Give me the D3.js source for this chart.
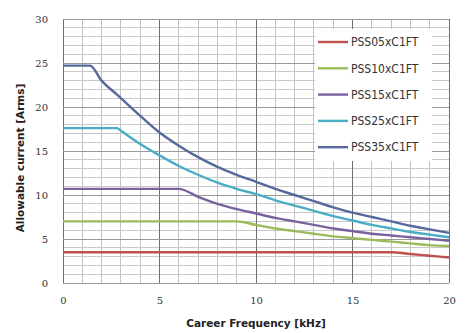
<!DOCTYPE html>
<html>
<head>
<meta charset="utf-8">
<script src="https://cdn.jsdelivr.net/npm/d3@7"></script>
<style>
  html, body { margin: 0; padding: 0; background: #fff; }
  svg { display: block; }
</style>
</head>
<body>
<svg id="chart" width="467" height="333"></svg>
<script>
// Carrier frequency [kHz] sample points
const freqs = [0, 1, 1.4, 2, 2.8, 3, 4, 5, 6, 7, 8, 9, 10, 11, 12, 13, 14, 15, 16, 17, 18, 19, 20];

// Allowable current [Arms] per model
const pss05 = [3.5, 3.5, 3.5, 3.5, 3.5, 3.5, 3.5, 3.5, 3.5, 3.5, 3.5, 3.5, 3.5, 3.5, 3.5, 3.5, 3.5, 3.5, 3.5, 3.5, 3.3, 3.1, 2.9];
const pss10 = [7.0, 7.0, 7.0, 7.0, 7.0, 7.0, 7.0, 7.0, 7.0, 7.0, 7.0, 7.0, 6.6, 6.2, 5.9, 5.6, 5.3, 5.1, 4.9, 4.7, 4.5, 4.3, 4.2];
const pss15 = [10.7, 10.7, 10.7, 10.7, 10.7, 10.7, 10.7, 10.7, 10.7, 9.8, 9.0, 8.4, 7.9, 7.4, 7.0, 6.6, 6.2, 5.9, 5.6, 5.4, 5.2, 5.0, 4.8];
const pss25 = [17.6, 17.6, 17.6, 17.6, 17.6, 17.3, 15.8, 14.5, 13.3, 12.3, 11.4, 10.7, 10.1, 9.4, 8.8, 8.2, 7.6, 7.1, 6.6, 6.2, 5.8, 5.5, 5.2];
const pss35 = [24.7, 24.7, 24.7, 23.0, 21.4, 21.0, 19.0, 17.1, 15.6, 14.3, 13.2, 12.3, 11.5, 10.7, 10.0, 9.3, 8.6, 8.0, 7.5, 7.0, 6.5, 6.1, 5.7];

const seriesNames = ["PSS05xC1FT", "PSS10xC1FT", "PSS15xC1FT", "PSS25xC1FT", "PSS35xC1FT"];
const seriesValues = [pss05, pss10, pss15, pss25, pss35];
const seriesColors = ["#c0504d", "#9bbb59", "#7a62a0", "#4bacc6", "#56689c"];

const xTicks = [0, 5, 10, 15, 20];
const yTicks = [0, 5, 10, 15, 20, 25, 30];

const xTitle = "Career Frequency [kHz]";
const yTitle = "Allowable current [Arms]";

const svg = d3.select("#chart");
const m = { left: 63, right: 18, top: 19, bottom: 50 };
const W = 467, H = 333;

const x = d3.scaleLinear().domain([0, 20]).range([m.left, W - m.right]);
const y = d3.scaleLinear().domain([0, 30]).range([H - m.bottom, m.top]);

const grid = svg.append("g");

// minor grid every 1 unit
grid.selectAll("line.vminor").data(d3.range(0, 21)).join("line")
  .attr("x1", d => x(d)).attr("x2", d => x(d))
  .attr("y1", y(0)).attr("y2", y(30))
  .attr("stroke", "#c2c2c2").attr("stroke-width", 1).attr("shape-rendering", "crispEdges");
grid.selectAll("line.hminor").data(d3.range(0, 31)).join("line")
  .attr("x1", x(0)).attr("x2", x(20))
  .attr("y1", d => y(d)).attr("y2", d => y(d))
  .attr("stroke", "#c8c8c8").attr("stroke-width", 1).attr("shape-rendering", "crispEdges");

// major grid
grid.selectAll("line.vmajor").data(xTicks).join("line")
  .attr("x1", d => x(d)).attr("x2", d => x(d))
  .attr("y1", y(0)).attr("y2", y(30))
  .attr("stroke", "#6e6e6e").attr("stroke-width", 1).attr("shape-rendering", "crispEdges");
grid.selectAll("line.hmajor").data(yTicks).join("line")
  .attr("x1", x(0)).attr("x2", x(20))
  .attr("y1", d => y(d)).attr("y2", d => y(d))
  .attr("stroke", "#9a9a9a").attr("stroke-width", 1).attr("shape-rendering", "crispEdges");

// axes (labels only)
const xAxis = d3.axisBottom(x).tickValues(xTicks).tickSize(0).tickPadding(14);
const yAxis = d3.axisLeft(y).tickValues(yTicks).tickSize(0).tickPadding(15);

const gx = svg.append("g").attr("transform", `translate(0,${y(0)})`).call(xAxis);
const gy = svg.append("g").attr("transform", `translate(${x(0)},0)`).call(yAxis);
[gx, gy].forEach(g => {
  g.select(".domain").remove();
  g.selectAll("text")
    .attr("font-family", "'DejaVu Serif', serif")
    .attr("font-size", 10)
    .attr("fill", "#333");
});

// series lines
const line = d3.line()
  .x((d, i) => x(freqs[i]))
  .y(d => y(d))
  .curve(d3.curveMonotoneX);

svg.append("g").selectAll("path").data(seriesValues).join("path")
  .attr("d", d => line(d))
  .attr("fill", "none")
  .attr("stroke", (d, i) => seriesColors[i])
  .attr("stroke-width", 2.4)
  .attr("stroke-linejoin", "round");

// legend
const lg = svg.append("g");
lg.append("rect")
  .attr("x", 315).attr("y", 29).attr("width", 117).attr("height", 132)
  .attr("fill", "#fff");
const items = lg.selectAll("g.item").data(seriesNames).join("g")
  .attr("transform", (d, i) => `translate(318,${42 + i * 26.3})`);
items.append("line")
  .attr("x1", 0).attr("x2", 30).attr("y1", 0).attr("y2", 0)
  .attr("stroke", (d, i) => seriesColors[i]).attr("stroke-width", 2.4);
items.append("text")
  .attr("x", 33).attr("y", 0).attr("dy", "0.35em")
  .attr("font-family", "'Liberation Sans Narrow', 'DejaVu Sans Condensed', sans-serif")
  .attr("font-size", 12)
  .attr("fill", "#333")
  .text(d => d);

// axis titles
svg.append("text")
  .attr("x", (x(0) + x(20)) / 2).attr("y", 327)
  .attr("text-anchor", "middle")
  .attr("font-family", "'DejaVu Sans', sans-serif")
  .attr("font-weight", "bold").attr("font-size", 10.5)
  .attr("fill", "#222")
  .text(xTitle);
svg.append("text")
  .attr("transform", `translate(24,158) rotate(-90)`)
  .attr("text-anchor", "middle")
  .attr("font-family", "'DejaVu Sans', sans-serif")
  .attr("font-weight", "bold").attr("font-size", 10.5)
  .attr("fill", "#222")
  .text(yTitle);
</script>
</body>
</html>
